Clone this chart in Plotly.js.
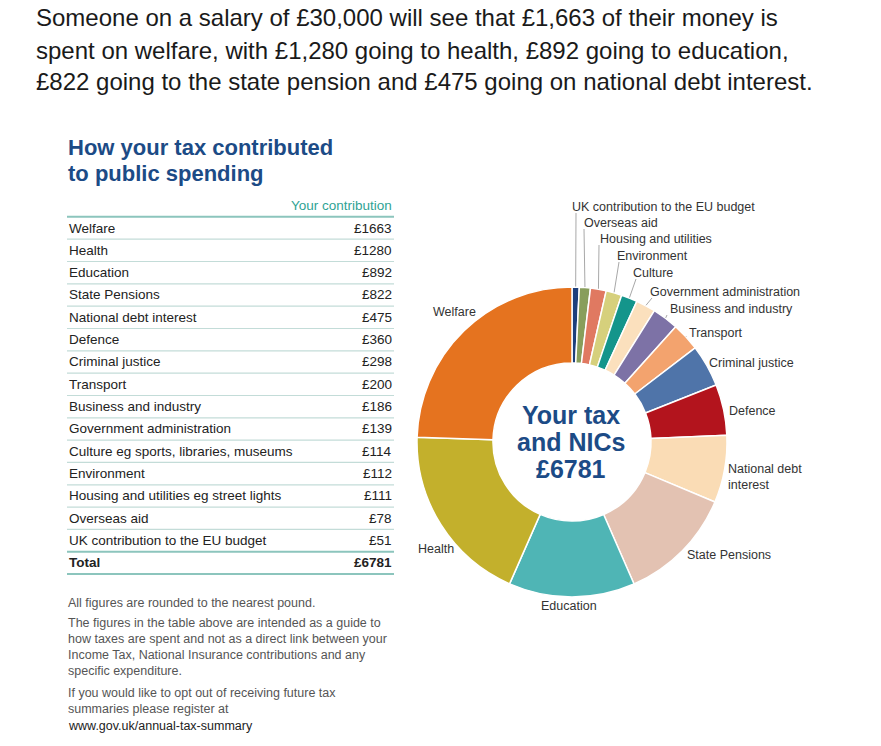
<!DOCTYPE html>
<html>
<head>
<meta charset="utf-8">
<script src="https://cdn.plot.ly/plotly-3.0.1.min.js"></script>
<style>html,body{margin:0;padding:0;background:#fff}#chart{width:881px;height:746px}</style>
</head>
<body>
<div id="chart"></div>
<script>
// ---- data (table order) ----
const categories = ["Welfare","Health","Education","State Pensions","National debt interest","Defence","Criminal justice","Transport","Business and industry","Government administration","Culture eg sports, libraries, museums","Environment","Housing and utilities eg street lights","Overseas aid","UK contribution to the EU budget"];
const chartLabels = ["Welfare","Health","Education","State Pensions","National debt<br>interest","Defence","Criminal justice","Transport","Business and industry","Government administration","Culture","Environment","Housing and utilities","Overseas aid","UK contribution to the EU budget"];
const values = [1663,1280,892,822,475,360,298,200,186,139,114,112,111,78,51];
const total = 6781;
const colors = ["#e5731f","#c3b02c","#4fb5b5","#e3c2b2","#fadcb5","#b3141d","#4f74a9","#f3a36e","#7d72a6","#fbe0bd","#14958b","#d6d07c","#e07961","#889e5b","#1d3f7c"];
const headerLabel = "Your contribution";
const totalLabel = "Total";

const W = 881, H = 746;
const PX = x => x / W, PY = y => 1 - y / H;
const FONT = '"Liberation Sans", Arial, Helvetica, sans-serif';

// pie geometry (px)
const cx = 572, cy = 442, R = 155;
const pieLabels = chartLabels.slice().reverse();
const pieValues = values.slice().reverse();
const pieColors = colors.slice().reverse();

const pie = {
  type: 'pie', labels: pieLabels, values: pieValues, sort: false, direction: 'clockwise', rotation: 0,
  hole: 0.51, textinfo: 'none', hoverinfo: 'none', showlegend: false,
  marker: {colors: pieColors, line: {color: '#ffffff', width: 1.5}},
  domain: {x: [PX(cx - R), PX(cx + R)], y: [PY(cy + R), PY(cy - R)]}
};

// table separator lines (on hidden axes x2/y2, rows indexed 0..15)
const nRows = categories.length + 1;
const thinX = [], thinY = [], thickX = [], thickY = [];
for (let i = -1; i < nRows; i++) {
  const yv = i + 0.5;
  const thick = (i === -1 || i === nRows - 2 || i === nRows - 1);
  (thick ? thickX : thinX).push(0, 1, null);
  (thick ? thickY : thinY).push(yv, yv, null);
}
const thinLines = {type: 'scatter', mode: 'lines', x: thinX, y: thinY, xaxis: 'x2', yaxis: 'y2', line: {color: '#c3dcd8', width: 1.2}, hoverinfo: 'skip', showlegend: false};
const thickLines = {type: 'scatter', mode: 'lines', x: thickX, y: thickY, xaxis: 'x2', yaxis: 'y2', line: {color: '#8cc5bd', width: 2}, hoverinfo: 'skip', showlegend: false};

const annotations = [];
function txt(x, y, text, opts) {
  annotations.push(Object.assign({xref: 'paper', yref: 'paper', x: PX(x), y: PY(y), text: text, showarrow: false, xanchor: 'left', yanchor: 'middle', align: 'left', font: {family: FONT, size: 12, color: '#333'}}, opts || {}));
}

// headline paragraph
const para = ["Someone on a salary of £30,000 will see that £1,663 of their money is",
  "spent on welfare, with £1,280 going to health, £892 going to education,",
  "£822 going to the state pension and £475 going on national debt interest."];
[17, 50, 82].forEach((y, i) => txt(34, y, para[i], {font: {family: FONT, size: 24, color: '#1a1a1a'}}));

// table title
txt(66, 147, "<b>How your tax contributed</b>", {font: {family: FONT, size: 22, color: '#1c4b86'}});
txt(66, 174, "<b>to public spending</b>", {font: {family: FONT, size: 22, color: '#1c4b86'}});

// table contents
const TS = 13.5;
annotations.push({xref: 'x2', yref: 'y2', x: 1, y: -1, text: headerLabel, showarrow: false, xanchor: 'right', yanchor: 'middle', font: {family: FONT, size: 13.5, color: '#2fa394'}});
categories.forEach((c, i) => {
  annotations.push({xref: 'x2', yref: 'y2', x: 0, y: i, text: c, showarrow: false, xanchor: 'left', yanchor: 'middle', font: {family: FONT, size: TS, color: '#222'}});
  annotations.push({xref: 'x2', yref: 'y2', x: 1, y: i, text: '£' + values[i], showarrow: false, xanchor: 'right', yanchor: 'middle', font: {family: FONT, size: TS, color: '#222'}});
});
annotations.push({xref: 'x2', yref: 'y2', x: 0, y: categories.length, text: '<b>' + totalLabel + '</b>', showarrow: false, xanchor: 'left', yanchor: 'middle', font: {family: FONT, size: TS, color: '#222'}});
annotations.push({xref: 'x2', yref: 'y2', x: 1, y: categories.length, text: '<b>£' + total + '</b>', showarrow: false, xanchor: 'right', yanchor: 'middle', font: {family: FONT, size: TS, color: '#222'}});

// footnotes
const notes = [[603, "All figures are rounded to the nearest pound."],
  [623, "The figures in the table above are intended as a guide to"],
  [639, "how taxes are spent and not as a direct link between your"],
  [655, "Income Tax, National Insurance contributions and any"],
  [671, "specific expenditure."],
  [693, "If you would like to opt out of receiving future tax"],
  [709, "summaries please register at"]];
notes.forEach(n => txt(66, n[0], n[1], {font: {family: FONT, size: 12.5, color: '#555'}}));
txt(66, 726, "www.gov.uk/annual-tax-summary", {font: {family: FONT, size: 12.5, color: '#222'}});

// centre text
[[415, "Your tax"], [442, "and NICs"], [469, "£6781"]].forEach(t => txt(cx - 1, t[0], '<b>' + t[1] + '</b>', {xanchor: 'center', align: 'center', font: {family: FONT, size: 25, color: '#1c4b86'}}));

// slice labels: [x, y, anchor, lineEndX, lineEndY] in table order
const labelPos = [
  [431, 312, 'left'], [416, 549, 'left'], [569, 606, 'center'], [685, 555, 'left'],
  [726, 477, 'left'], [727, 411, 'left'], [707, 363, 'left'], [687, 333, 'left', 686, 336],
  [668, 309, 'left', 667, 315], [648, 292, 'left', 652, 298], [631, 273, 'left', 636, 279],
  [615, 256, 'left', 619, 262], [598, 239, 'left', 599, 245], [582, 223, 'left', 584, 229],
  [570, 207, 'left', 576, 213]];
const shapes = [];
// mid angles from data (clockwise from 12 o'clock, pie order)
let cum = 0;
const midAngle = {};
pieValues.forEach((v, k) => { midAngle[pieLabels[k]] = (cum + v / 2) / total * 2 * Math.PI; cum += v; });
chartLabels.forEach((l, i) => {
  const p = labelPos[i];
  txt(p[0], p[1], l, {xanchor: p[2], align: p[2], font: {family: FONT, size: 12.5, color: '#333'}});
  if (p.length > 3) {
    const a = midAngle[l];
    const sx = cx + (R + 0.5) * Math.sin(a), sy = cy - (R + 0.5) * Math.cos(a);
    shapes.push({type: 'line', xref: 'paper', yref: 'paper', x0: PX(sx), y0: PY(sy), x1: PX(p[3]), y1: PY(p[4]), line: {color: '#a8a8a8', width: 1}});
  }
});

// table axes geometry
const tTop = 195, tBot = 585, row0 = 228, rowH = 22.33;
const layout = {
  width: W, height: H, margin: {l: 0, r: 0, t: 0, b: 0}, paper_bgcolor: '#fff', plot_bgcolor: 'rgba(0,0,0,0)',
  showlegend: false, font: {family: FONT},
  xaxis2: {domain: [PX(67), PX(394)], range: [0, 1], visible: false, fixedrange: true, anchor: 'y2'},
  yaxis2: {domain: [PY(tBot), PY(tTop)], range: [(tBot - row0) / rowH, (tTop - row0) / rowH], visible: false, fixedrange: true, anchor: 'x2'},
  annotations: annotations, shapes: shapes
};
Plotly.newPlot('chart', [pie, thinLines, thickLines], layout, {displayModeBar: false, staticPlot: true});
</script>
</body>
</html>
